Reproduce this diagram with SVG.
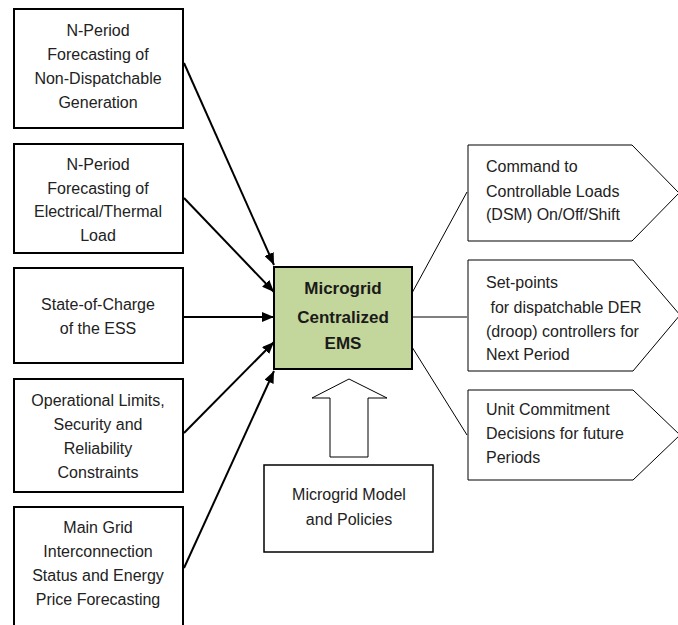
<svg xmlns="http://www.w3.org/2000/svg" width="678" height="625" viewBox="0 0 678 625">
<defs>
<marker id="ah" markerWidth="12" markerHeight="10" refX="12" refY="5" orient="auto" markerUnits="userSpaceOnUse">
<path d="M0,0 L12,5 L0,10 Z" fill="#000"/>
</marker>
<style>
.box{fill:#fff;stroke:#000;stroke-width:2}
.pent{fill:#fff;stroke:#000;stroke-width:1}
.t{font-family:"Liberation Sans",Arial,sans-serif;font-size:16px;fill:#222}
.c{text-anchor:middle}
.b{font-family:"Liberation Sans",Arial,sans-serif;font-size:17px;font-weight:bold;fill:#1a1a1a;text-anchor:middle}
.in{stroke:#000;stroke-width:2;fill:none;marker-end:url(#ah)}
.out{stroke:#000;stroke-width:1;fill:none}
</style>
</defs>
<rect width="678" height="625" fill="#fff"/>
<g id="n1"><rect class="box" x="14" y="9" width="169" height="119"/>
<text class="t c" x="98" y="36">N-Period</text><text class="t c" x="98" y="60">Forecasting of</text><text class="t c" x="98" y="84">Non-Dispatchable</text><text class="t c" x="98" y="108">Generation</text></g>
<g id="n2"><rect class="box" x="14" y="144" width="169" height="109"/>
<text class="t c" x="98" y="170">N-Period</text><text class="t c" x="98" y="194">Forecasting of</text><text class="t c" x="98" y="217">Electrical/Thermal</text><text class="t c" x="98" y="241">Load</text></g>
<g id="n3"><rect class="box" x="14" y="268" width="169" height="95"/>
<text class="t c" x="98" y="310">State-of-Charge</text><text class="t c" x="98" y="334">of the ESS</text></g>
<g id="n4"><rect class="box" x="14" y="379" width="169" height="113"/>
<text class="t c" x="98" y="406">Operational Limits,</text><text class="t c" x="98" y="430">Security and</text><text class="t c" x="98" y="454">Reliability</text><text class="t c" x="98" y="478">Constraints</text></g>
<g id="n5"><rect class="box" x="14" y="507" width="169" height="125"/>
<text class="t c" x="98" y="533">Main Grid</text><text class="t c" x="98" y="557">Interconnection</text><text class="t c" x="98" y="581">Status and Energy</text><text class="t c" x="98" y="605">Price Forecasting</text></g>
<g id="ems"><rect x="274" y="267" width="138" height="102" fill="#c3d69b" stroke="#000" stroke-width="2"/>
<text class="b" x="343" y="294">Microgrid</text><text class="b" x="343" y="323">Centralized</text><text class="b" x="343" y="349">EMS</text></g>
<g id="o1"><path class="pent" d="M468,145 L632,145 L679,193 L632,241 L468,241 Z"/>
<text class="t" x="486" y="172">Command to</text><text class="t" x="486" y="197">Controllable Loads</text><text class="t" x="486" y="220">(DSM) On/Off/Shift</text></g>
<g id="o2"><path class="pent" d="M468,260 L633,260 L680,315 L633,371 L468,371 Z"/>
<text class="t" x="486" y="288">Set-points</text><text class="t" x="486" y="313" xml:space="preserve"> for dispatchable DER</text><text class="t" x="486" y="337">(droop) controllers for</text><text class="t" x="486" y="360">Next Period</text></g>
<g id="o3"><path class="pent" d="M468,390 L633,390 L680,435 L633,480 L468,480 Z"/>
<text class="t" x="486" y="415">Unit Commitment</text><text class="t" x="486" y="439">Decisions for future</text><text class="t" x="486" y="463">Periods</text></g>
<g id="model"><rect x="264" y="465" width="169" height="87" fill="#fff" stroke="#000" stroke-width="1.5"/>
<text class="t c" x="349" y="500">Microgrid Model</text><text class="t c" x="349" y="525">and Policies</text></g>
<g id="connectors">
<line class="in" x1="184" y1="63" x2="274" y2="265"/>
<line class="in" x1="184" y1="198" x2="274" y2="292"/>
<line class="in" x1="184" y1="317" x2="274" y2="317"/>
<line class="in" x1="184" y1="433" x2="274" y2="342"/>
<line class="in" x1="184" y1="568" x2="274" y2="371"/>
<line class="out" x1="412" y1="293" x2="467" y2="192"/>
<line class="out" x1="412" y1="317" x2="467" y2="317"/>
<line class="out" x1="412" y1="347" x2="467" y2="435"/>
<path d="M349,379 L387,398 L368,398 L368,457 L330,457 L330,398 L312,398 Z" fill="#fff" stroke="#000" stroke-width="1"/>
</g>
</svg>
